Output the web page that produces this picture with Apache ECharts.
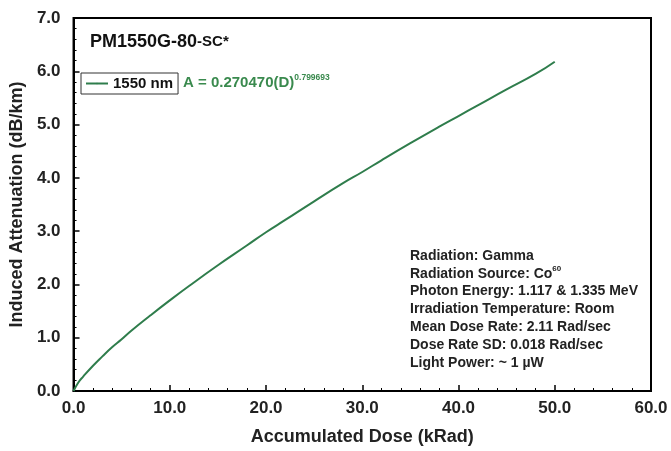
<!DOCTYPE html>
<html>
<head>
<meta charset="utf-8">
<script src="https://cdn.jsdelivr.net/npm/echarts@6/dist/echarts.min.js"></script>
<style>
    html, body { margin: 0; padding: 0; background: #fff; }
    #chart { width: 671px; height: 451px; }
</style>
</head>
<body>
<div id="chart"></div>
<script>
// 读图得到的数据
var doseValues = [0, 0.5, 1, 2, 3, 4, 5, 6, 8, 10, 12, 15, 18, 20, 22, 25, 28, 30, 32, 35, 38, 40, 42, 45, 48, 50];
var attenuationValues = [0, 0.16, 0.27, 0.47, 0.65, 0.82, 0.97, 1.13, 1.42, 1.70, 1.97, 2.36, 2.73, 2.98, 3.21, 3.56, 3.90, 4.11, 4.33, 4.65, 4.96, 5.16, 5.36, 5.66, 5.95, 6.18];
var xTicks = [0, 10, 20, 30, 40, 50, 60];
var yTicks = [0, 1, 2, 3, 4, 5, 6, 7];
var seriesName = '1550 nm';
var infoLines = [
    'Radiation: Gamma',
    'Radiation Source: Co{sup|60}',
    'Photon Energy: 1.117 & 1.335 MeV',
    'Irradiation Temperature: Room',
    'Mean Dose Rate: 2.11 Rad/sec',
    'Dose Rate SD: 0.018 Rad/sec',
    'Light Power: ~ 1 \u00b5W'
];

var FONT = 'Liberation Sans, Arial, sans-serif';
var GREEN = '#2f7d4c';

var myChart = echarts.init(document.getElementById('chart'));

var points = [];
for (var i = 0; i < doseValues.length; i++) {
    points.push([doseValues[i], attenuationValues[i]]);
}

/**
 * 两个坐标轴共用的样式
 */
function axisCommon(ticks) {
    return {
        type: 'value',
        min: ticks[0],
        max: ticks[ticks.length - 1],
        interval: ticks[1] - ticks[0],
        nameLocation: 'middle',
        nameTextStyle: { color: '#222', fontFamily: FONT, fontWeight: 'bold', fontSize: 18 },
        axisLine: { show: true, onZero: false, lineStyle: { color: '#000', width: 2 } },
        axisTick: { show: true, inside: true, length: 6, lineStyle: { color: '#000', width: 1.5 } },
        minorTick: { show: true, splitNumber: 5, length: 3, lineStyle: { color: '#000', width: 1 } },
        splitLine: { show: false },
        axisLabel: {
            color: '#222', fontFamily: FONT, fontWeight: 'bold', fontSize: 17,
            formatter: function (v) { return v.toFixed(1); }
        }
    };
}

var xAxis = axisCommon(xTicks);
xAxis.name = 'Accumulated Dose (kRad)';
xAxis.nameGap = 37;
xAxis.axisLabel.margin = 9;

var yAxis = axisCommon(yTicks);
yAxis.name = 'Induced Attenuation (dB/km)';
yAxis.nameGap = 41;
yAxis.axisLabel.margin = 13;

var option = {
    animation: false,
    grid: {
        left: 72, right: 20, top: 18, bottom: 59,
        show: true, borderColor: '#000', borderWidth: 2
    },
    legend: {
        data: [seriesName],
        left: 81, top: 73,
        padding: [3, 5, 3, 4],
        borderColor: '#333', borderWidth: 1,
        itemWidth: 22, itemHeight: 2, itemGap: 4,
        textStyle: { color: '#111', fontFamily: FONT, fontWeight: 'bold', fontSize: 15 }
    },
    xAxis: xAxis,
    yAxis: yAxis,
    series: [{
        name: seriesName,
        type: 'line',
        data: points,
        symbol: 'none',
        smooth: true,
        lineStyle: { color: GREEN, width: 2 },
        itemStyle: { color: GREEN }
    }],
    graphic: [{
        type: 'text',
        left: 90, top: 33,
        style: {
            text: '{a|PM1550G-80}{b|-SC*}',
            rich: {
                a: { fontFamily: FONT, fontWeight: 'bold', fontSize: 18, lineHeight: 19, fill: '#111' },
                b: { fontFamily: FONT, fontWeight: 'bold', fontSize: 15, lineHeight: 19, fill: '#111' }
            }
        }
    }, {
        type: 'text',
        left: 183, top: 73,
        style: {
            text: '{e|A = 0.270470(D)}{s|0.799693}',
            rich: {
                e: { fontFamily: FONT, fontWeight: 'bold', fontSize: 15, fill: '#3a8a4e', verticalAlign: 'bottom' },
                s: { fontFamily: FONT, fontWeight: 'bold', fontSize: 8.5, fill: '#3a8a4e', verticalAlign: 'top', padding: [0, 0, 8, 0] }
            }
        }
    }, {
        type: 'text',
        left: 410, top: 247,
        style: {
            text: infoLines.join('\n'),
            fontFamily: FONT, fontWeight: 'bold', fontSize: 14, lineHeight: 17.8, fill: '#222',
            rich: {
                sup: { fontFamily: FONT, fontWeight: 'bold', fontSize: 8, fill: '#222', verticalAlign: 'top', padding: [0, 0, 7, 0] }
            }
        }
    }]
};

myChart.setOption(option, true);
</script>
</body>
</html>
